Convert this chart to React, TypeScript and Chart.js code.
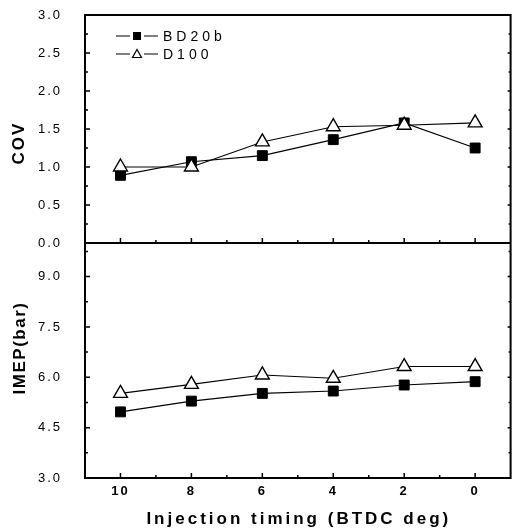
import { useEffect, useRef } from "react";
import { Chart, registerables } from "chart.js";

Chart.register(...registerables);

// Injection timing (deg BTDC), plotted right-to-left
const timing = [10, 8, 6, 4, 2, 0];
const timingTicks = [10, 8, 6, 4, 2, 0];

// Coefficient of variation
const covBD20b = [0.89, 1.07, 1.15, 1.36, 1.58, 1.25];
const covD100 = [1.0, 1.0, 1.33, 1.53, 1.55, 1.58];
const covTicks = [0, 0.5, 1.0, 1.5, 2.0, 2.5, 3.0];

// Indicated mean effective pressure (bar)
const imepBD20b = [4.97, 5.29, 5.52, 5.59, 5.77, 5.87];
const imepD100 = [5.52, 5.79, 6.07, 5.97, 6.32, 6.32];
const imepTicks = [3.0, 4.5, 6.0, 7.5, 9.0];

const seriesNames = ["BD20b", "D100"];
const xTitle = "Injection timing (BTDC deg)";
const covTitle = "COV";
const imepTitle = "IMEP(bar)";

const FONT = "Arial, 'Liberation Sans', Helvetica, sans-serif";

const toPoints = (ys: number[]) => timing.map((x, i) => ({ x, y: ys[i] }));

const squareStyle = {
  pointStyle: "rect" as const,
  pointRadius: 7,
  pointBackgroundColor: "#000",
  pointBorderColor: "#000",
  pointBorderWidth: 1,
};
const triangleStyle = {
  pointStyle: "triangle" as const,
  pointRadius: 8,
  pointBackgroundColor: "#fff",
  pointBorderColor: "#000",
  pointBorderWidth: 1.4,
};

const framePlugin = {
  id: "frameAndLabels",
  beforeDraw(chart: any) {
    chart.ctx.letterSpacing = "2px";
  },
  afterDraw(chart: any) {
    const { ctx, chartArea: a, scales } = chart;
    const xs = scales.x;
    const yT = scales.yTop;
    const yB = scales.yBot;
    const mid = yT.bottom;
    ctx.save();
    ctx.letterSpacing = "0px";
    ctx.strokeStyle = "#000";
    ctx.fillStyle = "#000";

    // panel frames
    ctx.lineWidth = 2;
    ctx.strokeRect(a.left, a.top, a.right - a.left, a.bottom - a.top);
    ctx.beginPath();
    ctx.moveTo(a.left, mid);
    ctx.lineTo(a.right, mid);
    ctx.stroke();

    // inward tick marks
    ctx.lineWidth = 1.5;
    ctx.beginPath();
    for (let v = 0; v <= 10; v++) {
      const px = xs.getPixelForValue(v);
      const len = v % 2 === 0 ? 5 : 3;
      for (const base of [mid, a.bottom]) {
        ctx.moveTo(px, base);
        ctx.lineTo(px, base - len);
      }
    }
    for (let k = 1; k < 12; k++) {
      const v = k * 0.25;
      const py = yT.getPixelForValue(v);
      const len = k % 2 === 0 ? 5 : 3;
      ctx.moveTo(a.left, py);
      ctx.lineTo(a.left + len, py);
      ctx.moveTo(a.right, py);
      ctx.lineTo(a.right - (k % 2 === 0 ? 3 : 2), py);
    }
    for (let k = 1; k < 10; k++) {
      const v = 3 + k * 0.75;
      const py = yB.getPixelForValue(v);
      const len = k % 2 === 0 ? 5 : 3;
      ctx.moveTo(a.left, py);
      ctx.lineTo(a.left + len, py);
      ctx.moveTo(a.right, py);
      ctx.lineTo(a.right - (k % 2 === 0 ? 3 : 2), py);
    }
    ctx.stroke();

    // axis titles
    ctx.font = `bold 17px ${FONT}`;
    ctx.textAlign = "center";
    ctx.textBaseline = "middle";
    ctx.letterSpacing = "2px";
    ctx.save();
    ctx.translate(19, a.top + 128);
    ctx.rotate(-Math.PI / 2);
    ctx.fillText(covTitle, 0, 0);
    ctx.restore();
    ctx.save();
    ctx.translate(20, mid + 105);
    ctx.rotate(-Math.PI / 2);
    ctx.letterSpacing = "1.5px";
    ctx.fillText(imepTitle, 0, 0);
    ctx.restore();

    ctx.font = `bold 17px ${FONT}`;
    ctx.letterSpacing = "3px";
    ctx.fillText(xTitle, (a.left + a.right) / 2 + 1, a.bottom + 41);

    // legend: line – marker – line, then name
    const lx = a.left + 31;
    const rows = [a.top + 21, a.top + 39];
    ctx.lineWidth = 1;
    rows.forEach((ry, i) => {
      ctx.beginPath();
      ctx.moveTo(lx, ry);
      ctx.lineTo(lx + 14, ry);
      ctx.moveTo(lx + 28, ry);
      ctx.lineTo(lx + 42, ry);
      ctx.stroke();
      const cx = lx + 21;
      if (i === 0) {
        ctx.fillRect(cx - 4, ry - 4, 8, 8);
      } else {
        ctx.beginPath();
        ctx.moveTo(cx, ry - 4.5);
        ctx.lineTo(cx + 4.5, ry + 3.5);
        ctx.lineTo(cx - 4.5, ry + 3.5);
        ctx.closePath();
        ctx.fillStyle = "#fff";
        ctx.fill();
        ctx.lineWidth = 1.2;
        ctx.stroke();
        ctx.fillStyle = "#000";
      }
    });
    ctx.font = `14px ${FONT}`;
    ctx.textAlign = "left";
    ctx.letterSpacing = "4px";
    rows.forEach((ry, i) => ctx.fillText(seriesNames[i], lx + 47, ry + 1));

    ctx.restore();
    ctx.letterSpacing = "0px";
  },
};

// keep tick-label overhang from shrinking the plotting area
const noScalePadding = (s: any) => {
  s.paddingTop = 0;
  s.paddingBottom = 0;
  s.paddingLeft = 0;
  s.paddingRight = 0;
};

export default function App() {
  const canvasRef = useRef<HTMLCanvasElement | null>(null);

  useEffect(() => {
    const canvas = canvasRef.current;
    if (!canvas) return;
    const lineCommon = {
      borderColor: "#000",
      borderWidth: 1.1,
      fill: false,
      tension: 0,
      xAxisID: "x",
    };
    const yTickFont = { family: FONT, size: 13 };
    const chart = new Chart(canvas, {
      type: "line",
      data: {
        datasets: [
          { ...lineCommon, ...squareStyle, label: seriesNames[0], data: toPoints(covBD20b), yAxisID: "yTop", order: 1 },
          { ...lineCommon, ...triangleStyle, label: seriesNames[1], data: toPoints(covD100), yAxisID: "yTop", order: 0 },
          { ...lineCommon, ...squareStyle, label: seriesNames[0], data: toPoints(imepBD20b), yAxisID: "yBot", order: 1 },
          { ...lineCommon, ...triangleStyle, label: seriesNames[1], data: toPoints(imepD100), yAxisID: "yBot", order: 0 },
        ],
      },
      options: {
        responsive: false,
        animation: false,
        events: [],
        devicePixelRatio: 1,
        layout: { padding: { top: 15, left: 8, right: 2, bottom: 0 } },
        plugins: {
          legend: { display: false },
          tooltip: { enabled: false },
          title: { display: false },
        },
        scales: {
          x: {
            type: "linear",
            position: "bottom",
            min: -1,
            max: 11,
            reverse: true,
            grid: { display: false, drawTicks: false },
            border: { display: false },
            afterBuildTicks: (s: any) => {
              s.ticks = timingTicks.map((value) => ({ value }));
            },
            afterFit: (s: any) => {
              s.height = 54;
              noScalePadding(s);
            },
            ticks: {
              padding: 6,
              color: "#000",
              font: { family: FONT, size: 13, weight: "bold" },
              callback: (v: any) => String(v),
            },
          },
          yBot: {
            type: "linear",
            position: "left",
            stack: "panels",
            stackWeight: 235,
            min: 3,
            max: 10,
            grid: { display: false, drawTicks: false },
            border: { display: false },
            afterBuildTicks: (s: any) => {
              s.ticks = imepTicks.map((value) => ({ value }));
            },
            afterFit: (s: any) => {
              s.width = 77;
              noScalePadding(s);
            },
            ticks: {
              padding: 23,
              color: "#000",
              font: yTickFont,
              callback: (v: any) => Number(v).toFixed(1),
            },
          },
          yTop: {
            type: "linear",
            position: "left",
            stack: "panels",
            stackWeight: 228,
            min: 0,
            max: 3,
            grid: { display: false, drawTicks: false },
            border: { display: false },
            afterBuildTicks: (s: any) => {
              s.ticks = covTicks.map((value) => ({ value }));
            },
            afterFit: (s: any) => {
              s.width = 77;
              noScalePadding(s);
            },
            ticks: {
              padding: 23,
              color: "#000",
              font: yTickFont,
              callback: (v: any) => Number(v).toFixed(1),
            },
          },
        },
      } as any,
      plugins: [framePlugin],
    });
    return () => chart.destroy();
  }, []);

  return (
    <div style={{ position: "fixed", left: 0, top: 0, width: 520, height: 532, background: "#fff" }}>
      <canvas ref={canvasRef} width={520} height={532} style={{ display: "block" }} />
    </div>
  );
}
